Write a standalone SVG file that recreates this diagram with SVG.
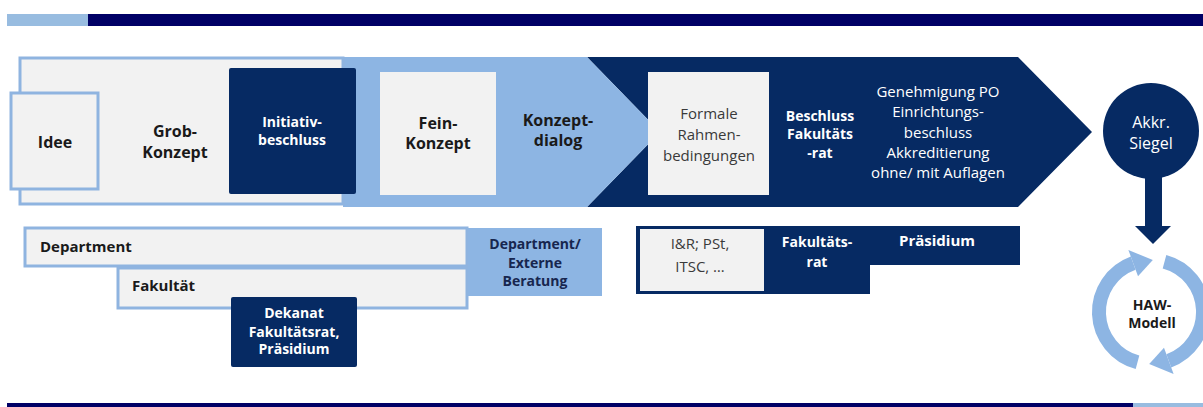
<svg xmlns="http://www.w3.org/2000/svg" width="1203" height="407" viewBox="0 0 1203 407">
<style>
.t{font-family:"Open Sans","Liberation Sans",sans-serif;text-anchor:middle}
.b{font-weight:bold}
.dk{fill:#1a1a1a}
.wh{fill:#ffffff}
.gr{fill:#3a3a3a}
.grey{fill:#f2f2f2;stroke:#8fb4e0;stroke-width:3}
.navy{fill:#062a63}
.lb{fill:#8db5e3}
</style>
<g id="bars">
<rect x="7" y="14" width="81" height="12" fill="#98bce0"/>
<rect x="88" y="14" width="1115" height="12" fill="#000066"/>
<rect x="7" y="403" width="1126" height="4" fill="#000066"/>
<rect x="1133" y="403" width="70" height="4" fill="#98bce0"/>
</g>
<g id="navy-arrow">
<polygon class="navy" points="587,57 1018,57 1092,132 1018,207 587,207 660,132"/>
</g>
<g id="lightblue-arrow">
<polygon class="lb" points="343,57 587,57 660,132 587,207 343,207"/>
</g>
<g id="grob">
<rect class="grey" x="20" y="58" width="323" height="146"/>
<text class="t b dk" font-size="16"><tspan x="175" y="137">Grob-</tspan><tspan x="175" y="158">Konzept</tspan></text>
</g>
<g id="idee">
<rect class="grey" x="11" y="93" width="87" height="96"/>
<text class="t b dk" font-size="16" x="55" y="148">Idee</text>
</g>
<g id="initiativ">
<rect class="navy" x="229" y="68" width="127" height="126" rx="2"/>
<text class="t b wh" font-size="14"><tspan x="292" y="127">Initiativ-</tspan><tspan x="292" y="145">beschluss</tspan></text>
</g>
<g id="fein">
<rect x="380" y="72" width="116" height="123" fill="#f2f2f2"/>
<text class="t b dk" font-size="16"><tspan x="438" y="129">Fein-</tspan><tspan x="438" y="149">Konzept</tspan></text>
</g>
<g id="konzeptdialog">
<text class="t b dk" font-size="16"><tspan x="558" y="126">Konzept-</tspan><tspan x="558" y="146">dialog</tspan></text>
</g>
<g id="formale">
<rect x="648" y="72" width="121" height="123" fill="#f2f2f2"/>
<text class="t gr" font-size="15"><tspan x="709" y="119">Formale</tspan><tspan x="709" y="140">Rahmen-</tspan><tspan x="709" y="161">bedingungen</tspan></text>
</g>
<g id="beschluss">
<text class="t b wh" font-size="14"><tspan x="820" y="121">Beschluss</tspan><tspan x="820" y="139">Fakultäts</tspan><tspan x="820" y="158">-rat</tspan></text>
</g>
<g id="genehmigung">
<text class="t wh" font-size="15"><tspan x="938" y="97">Genehmigung PO</tspan><tspan x="938" y="117">Einrichtungs-</tspan><tspan x="938" y="138">beschluss</tspan><tspan x="938" y="158">Akkreditierung</tspan><tspan x="938" y="178">ohne/ mit Auflagen</tspan></text>
</g>
<g id="akkr">
<circle class="navy" cx="1151" cy="131" r="48"/>
<text class="t wh" font-size="16"><tspan x="1151" y="128">Akkr.</tspan><tspan x="1151" y="149">Siegel</tspan></text>
</g>
<g id="connectors">
<rect class="navy" x="1145" y="175" width="17" height="52"/>
<polygon class="navy" points="1135,226 1171,226 1153,244"/>
</g>
<g id="haw">
<path d="M1137.5,362.2 A52,52 0 0 1 1133.2,263.1" fill="none" stroke="#8db5e3" stroke-width="14"/>
<polygon class="lb" points="1138.0,276.3 1128.4,250.0 1152.8,260.0"/>
<path d="M1164.5,261.8 A52,52 0 0 1 1168.8,360.9" fill="none" stroke="#8db5e3" stroke-width="14"/>
<polygon class="lb" points="1164.0,347.7 1173.6,374.0 1149.2,364.0"/>
<text class="t b dk" font-size="14"><tspan x="1152" y="310">HAW-</tspan><tspan x="1152" y="328">Modell</tspan></text>
</g>
<g id="department">
<rect class="grey" x="25" y="228" width="442" height="38"/>
<text class="t b dk" font-size="15" x="40" y="252" style="text-anchor:start">Department</text>
</g>
<g id="fakultaet">
<rect class="grey" x="118" y="268" width="349" height="40"/>
<text class="t b dk" font-size="15" x="132" y="291" style="text-anchor:start">Fakultät</text>
</g>
<g id="dekanat">
<rect class="navy" x="231" y="297" width="126" height="70" rx="2"/>
<text class="t b wh" font-size="14"><tspan x="294" y="318">Dekanat</tspan><tspan x="294" y="337">Fakultätsrat,</tspan><tspan x="294" y="354">Präsidium</tspan></text>
</g>
<g id="beratung">
<rect class="lb" x="468" y="228" width="134" height="68"/>
<text class="t b" fill="#17264f" font-size="14"><tspan x="535" y="249">Department/</tspan><tspan x="535" y="268">Externe</tspan><tspan x="535" y="286">Beratung</tspan></text>
</g>
<g id="gremien">
<path class="navy" d="M636,226 H1020 V265 H870 V294 H636 Z"/>
<rect x="640" y="229" width="124" height="62" fill="#f2f2f2"/>
<text class="t gr" font-size="15"><tspan x="700" y="249">I&amp;R; PSt,</tspan><tspan x="700" y="272">ITSC, …</tspan></text>
<text class="t b wh" font-size="14"><tspan x="817" y="247">Fakultäts-</tspan><tspan x="817" y="267">rat</tspan></text>
<text class="t b wh" font-size="15" x="937" y="246">Präsidium</text>
</g>
</svg>
